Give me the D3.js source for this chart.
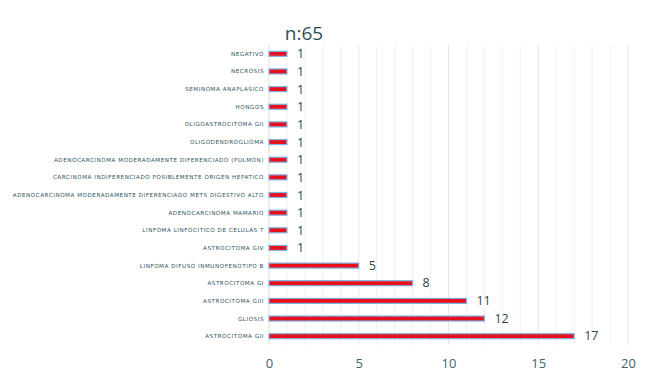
<!DOCTYPE html>
<html><head><meta charset="utf-8">
<script src="https://cdn.jsdelivr.net/npm/d3@7"></script>
<style>body{margin:0;background:#fff}svg{display:block}</style>
</head><body><svg id="c" width="650" height="380"></svg>
<script>
const categories = [
  "NEGATIVO","NECROSIS","SEMINOMA ANAPLASICO","HONGOS","OLIGOASTROCITOMA GII",
  "OLIGODENDROGLIOMA","ADENOCARCINOMA MODERADAMENTE DIFERENCIADO (PULMON)",
  "CARCINOMA INDIFERENCIADO POSIBLEMENTE ORIGEN HEPATICO",
  "ADENOCARCINOMA MODERADAMENTE DIFERENCIADO METS DIGESTIVO ALTO",
  "ADENOCARCINOMA MAMARIO","LINFOMA LINFOCITICO DE CELULAS T","ASTROCITOMA GIV",
  "LINFOMA DIFUSO INMUNOFENOTIPO B","ASTROCITOMA GI","ASTROCITOMA GIII","GLIOSIS","ASTROCITOMA GII"
];
const values = [1,1,1,1,1,1,1,1,1,1,1,1,5,8,11,12,17];
const xTicks = [0,5,10,15,20];
const title = "n:65";

const svg = d3.select("#c");
const x = d3.scaleLinear().domain([0,20]).range([269,628]);
const y = d3.scaleBand().domain(categories).range([45,345]).paddingInner(0).paddingOuter(0);

// gridlines every unit
svg.append("g").selectAll("line").data(d3.range(1,21)).join("line")
  .attr("x1",d=>x(d)).attr("x2",d=>x(d)).attr("y1",45).attr("y2",345)
  .attr("stroke",d=>d%5===0?"#e2e8e8":"#eef2f2").attr("stroke-width",1);
svg.append("line").attr("x1",x(0)).attr("x2",x(0)).attr("y1",45).attr("y2",345)
  .attr("stroke","#d6dede");

// bars
const bh = 5;
svg.append("g").selectAll("rect").data(values).join("rect")
  .attr("x",x(0)).attr("y",(d,i)=>y(categories[i])+y.bandwidth()/2-bh/2)
  .attr("width",d=>x(d)-x(0)).attr("height",bh)
  .attr("fill","#e8101a").attr("stroke","#7fb2e5").attr("stroke-width",1.2);

// category labels
svg.append("g").selectAll("text").data(categories).join("text")
  .attr("x",264).attr("y",d=>y(d)+y.bandwidth()/2+2)
  .attr("text-anchor","end").attr("font-family","DejaVu Sans, sans-serif")
  .attr("font-size",5.6).attr("letter-spacing",0.55).attr("fill","#2e5260").text(d=>d);

// value labels
svg.append("g").selectAll("text").data(values).join("text")
  .attr("x",d=>x(d)+10).attr("y",(d,i)=>y(categories[i])+y.bandwidth()/2+(d>1?4:4.5))
  .attr("font-family","Open Sans, sans-serif").attr("font-size",12.5).attr("font-weight",500)
  .attr("fill","#2f4444").text(d=>d);

// x axis
const ax = svg.append("g").attr("transform","translate(0,356)")
  .call(d3.axisBottom(x).tickValues(xTicks).tickSize(0).tickPadding(0));
ax.select(".domain").remove();
ax.selectAll("text").attr("font-family","Open Sans, sans-serif").attr("font-size",13)
  .attr("fill","#3d6470").attr("dy","0.9em");

// title
svg.append("text").attr("x",304).attr("y",40).attr("text-anchor","middle")
  .attr("font-family","Open Sans, sans-serif").attr("font-size",19).attr("fill","#2c4f55").text(title);
</script></body></html>
